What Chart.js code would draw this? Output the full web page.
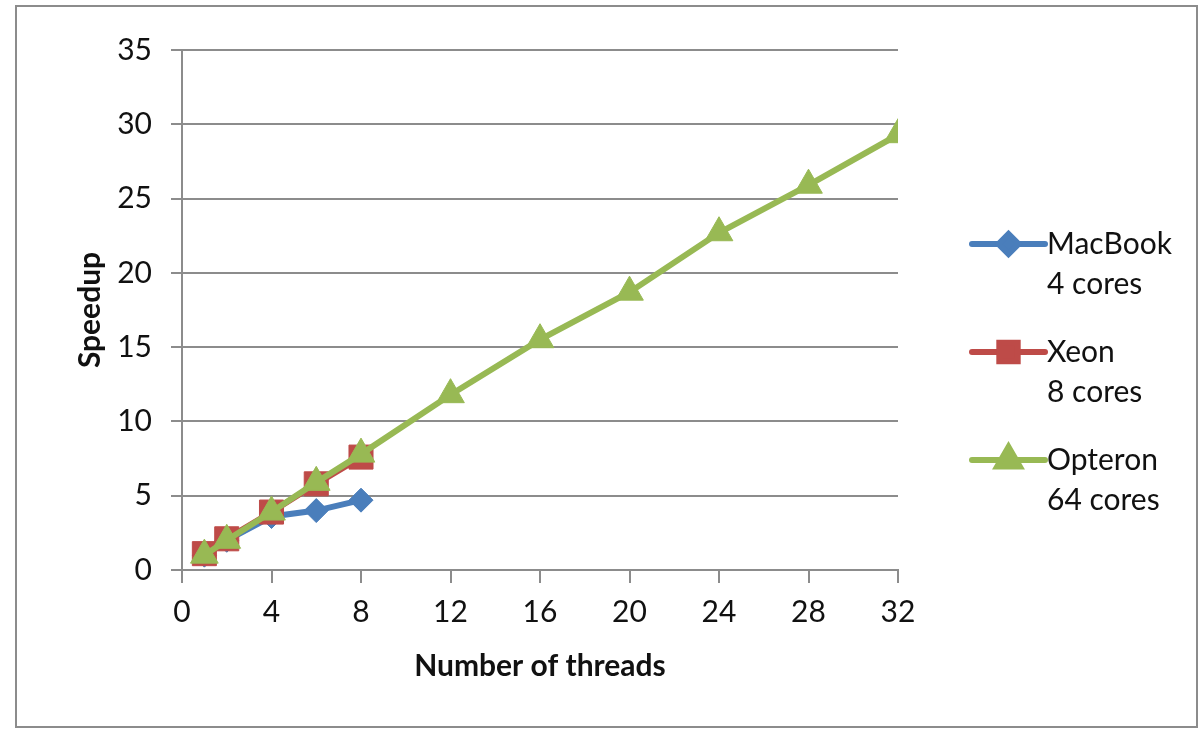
<!DOCTYPE html>
<html>
<head>
<meta charset="utf-8">
<script src="https://cdn.jsdelivr.net/npm/chart.js@4/dist/chart.umd.min.js"></script>
<style>
  html, body { margin: 0; padding: 0; background: #fff; }
  #wrap { width: 1201px; height: 731px; position: relative; }
</style>
</head>
<body>
<div id="wrap"><canvas id="grafico"></canvas></div>
<script>
const d = document;

//Datos
const threadsMac = [1, 2, 4, 6, 8],
  speedupMac = [1, 2, 3.6, 4.0, 4.7],
  threadsXeon = [1, 2, 4, 6, 8],
  speedupXeon = [1.1, 2.1, 3.9, 5.8, 7.6],
  threadsOpteron = [1, 2, 4, 6, 8, 12, 16, 20, 24, 28, 32],
  speedupOpteron = [1, 2, 3.9, 5.9, 7.8, 11.8, 15.5, 18.7, 22.7, 25.9, 29.3],
  etiquetas = [["MacBook", "4 cores"], ["Xeon", "8 cores"], ["Opteron", "64 cores"]],
  xTicks = [0, 4, 8, 12, 16, 20, 24, 28, 32],
  yTicks = [0, 5, 10, 15, 20, 25, 30, 35];

const azul = "#4a7ebb", rojo = "#be4b48", verde = "#98b954", gris = "#8c8c8c";
const fuente = "Lato, 'Open Sans', sans-serif";

const puntos = (xs, ys) => xs.map((x, i) => ({ x: x, y: ys[i] }));

//Marco y leyenda a mano (etiquetas de dos lineas)
const marcoLeyenda = {
  id: "marcoLeyenda",
  afterDraw(chart) {
    const ctx = chart.ctx;
    ctx.save();
    ctx.strokeStyle = gris;
    ctx.lineWidth = 2;
    ctx.strokeRect(16, 6, 1181, 721);

    const x0 = 972, x1 = 1045, ys = [244, 352, 460], radios = [10, 13, 13];
    chart.data.datasets.forEach((ds, i) => {
      const y = ys[i];
      ctx.strokeStyle = ds.borderColor;
      ctx.lineWidth = ds.borderWidth;
      ctx.lineCap = "round";
      ctx.beginPath();
      ctx.moveTo(x0, y);
      ctx.lineTo(x1, y);
      ctx.stroke();
      ctx.fillStyle = ds.backgroundColor;
      Chart.helpers.drawPoint(ctx, {
        pointStyle: ds.pointStyle,
        radius: radios[i],
        rotation: 0,
        borderWidth: 1
      }, (x0 + x1) / 2, y);
      ctx.fillStyle = "#111";
      ctx.font = "30px " + fuente;
      ctx.textBaseline = "middle";
      ctx.textAlign = "left";
      etiquetas[i].forEach((t, j) => ctx.fillText(t, 1047, y + j * 40));
    });
    ctx.restore();
  }
};

const config = {
  type: "line",
  data: {
    datasets: [
      {
        label: etiquetas[0].join(" "),
        data: puntos(threadsMac, speedupMac),
        borderColor: azul,
        backgroundColor: azul,
        borderWidth: 6,
        pointStyle: "rectRot",
        pointRadius: 12,
        pointBorderWidth: 1,
        order: 3
      },
      {
        label: etiquetas[1].join(" "),
        data: puntos(threadsXeon, speedupXeon),
        borderColor: rojo,
        backgroundColor: rojo,
        borderWidth: 6,
        pointStyle: "rect",
        pointRadius: 17,
        pointBorderWidth: 1,
        order: 2
      },
      {
        label: etiquetas[2].join(" "),
        data: puntos(threadsOpteron, speedupOpteron),
        borderColor: verde,
        backgroundColor: verde,
        borderWidth: 6,
        pointStyle: "triangle",
        pointRadius: 16,
        pointBorderWidth: 1,
        order: 1
      }
    ]
  },
  options: {
    responsive: true,
    maintainAspectRatio: false,
    animation: false,
    layout: { padding: { left: 0, right: 303, top: 50, bottom: 0 } },
    plugins: { legend: { display: false }, tooltip: { enabled: false } },
    scales: {
      x: {
        type: "linear",
        min: 0,
        max: 32,
        afterBuildTicks: (s) => { s.ticks = xTicks.map(v => ({ value: v })); },
        afterFit: (s) => { s.height = 161; },
        grid: { drawOnChartArea: false, drawTicks: true, tickLength: 13, color: gris, lineWidth: 2 },
        border: { color: gris, width: 2 },
        ticks: { color: "#111", padding: 11, font: { family: fuente, size: 30 } },
        title: {
          display: true,
          text: "Number of threads",
          color: "#111",
          font: { family: fuente, size: 30, weight: "bold" },
          padding: { top: 0, bottom: 47 }
        }
      },
      y: {
        min: 0,
        max: 35,
        afterBuildTicks: (s) => { s.ticks = yTicks.map(v => ({ value: v })); },
        afterFit: (s) => { s.width = 182; },
        grid: { color: gris, lineWidth: 2, tickLength: 11 },
        border: { color: gris, width: 2 },
        ticks: { color: "#111", padding: 19, font: { family: fuente, size: 30 } },
        title: {
          display: true,
          text: "Speedup",
          color: "#111",
          font: { family: fuente, size: 30, weight: "bold" },
          padding: { top: 72, bottom: 0 }
        }
      }
    }
  },
  plugins: [marcoLeyenda]
};

new Chart(d.getElementById("grafico"), config);
</script>
</body>
</html>
